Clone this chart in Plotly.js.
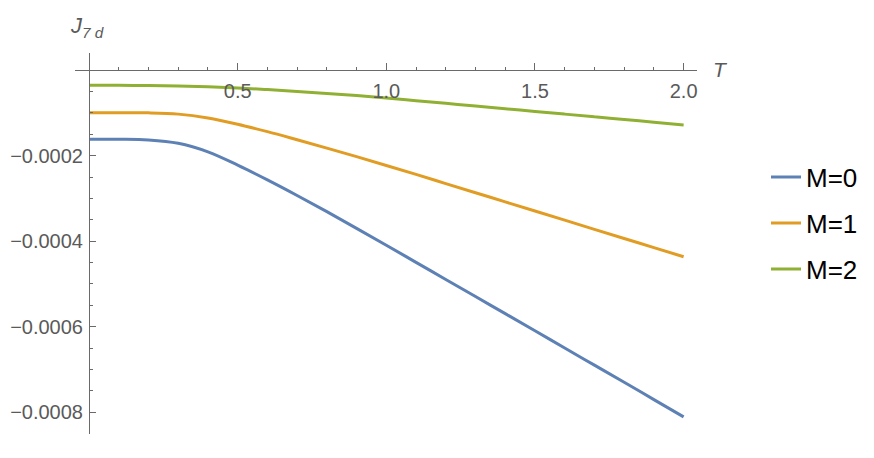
<!DOCTYPE html>
<html>
<head>
<meta charset="utf-8">
<script src="https://cdn.plot.ly/plotly-3.0.1.min.js"></script>
<style>html,body{margin:0;padding:0;background:#fff;}#chart{width:874px;height:458px;}</style>
</head>
<body>
<div id="chart"></div>
<script>
// Temperature values
const T = [0, 0.1, 0.2, 0.3, 0.4, 0.5, 0.6, 0.7, 0.8, 0.9, 1.0, 1.1, 1.2, 1.3, 1.4, 1.5, 1.6, 1.7, 1.8, 1.9, 2.0];
// J_{7d} for M = 0, 1, 2 (units of 1e-6)
const J_M0 = [-161.7, -161.7, -163.2, -171, -191, -222, -256.5, -293, -331, -370, -409.5, -449.5, -489.5, -529.5, -569.5, -609.5, -650, -690, -730, -770.5, -811];
const J_M1 = [-99.4, -99.4, -99.8, -102.8, -111.8, -126.3, -143.8, -162.8, -182.3, -202.3, -222.8, -243.8, -265.2, -286.6, -308, -329.4, -350.8, -372.2, -393.6, -415, -436.4];
const J_M2 = [-35.5, -35.5, -35.8, -36.8, -38.7, -41.6, -45.4, -49.6, -54.4, -59.5, -65.0, -71.3, -77.6, -84.0, -90.3, -96.5, -102.8, -109.1, -115.4, -121.7, -128.0];
const scale = 1e-6;
const seriesNames = ["M=0", "M=1", "M=2"];
const xTickVals = [0.5, 1.0, 1.5, 2.0];
const xTickText = ["0.5", "1.0", "1.5", "2.0"];
const yTickVals = [-0.0002, -0.0004, -0.0006, -0.0008];
const yTickText = ["\u22120.0002", "\u22120.0004", "\u22120.0006", "\u22120.0008"];

const colors = ["#5E81B5", "#E19C24", "#8FB032"];
const ys = [J_M0, J_M1, J_M2];
const legendIds = ["legend", "legend2", "legend3"];
const legendY = [177, 223, 269];

const traces = ys.map((y, i) => ({
  x: T, y: y.map(v => v * scale), type: "scatter", mode: "lines", name: seriesNames[i],
  line: {color: colors[i], width: 3, shape: "spline", smoothing: 1},
  legend: legendIds[i], hoverinfo: "none"
}));

const axisColor = "#6a6a6a";
const fam = "Liberation Sans, Arial, sans-serif";
const tickFont = {family: fam, size: 20, color: "#5a5a5a"};

const layout = {
  width: 874, height: 458,
  margin: {l: 75, r: 177, t: 53, b: 24},
  paper_bgcolor: "#fff", plot_bgcolor: "#fff",
  showlegend: true,
  xaxis: {
    range: [-0.0471, 2.045], showgrid: false, zeroline: false,
    showline: true, linecolor: axisColor, linewidth: 1,
    anchor: "free", position: 0.9549, side: "bottom",
    tickmode: "array", tickvals: xTickVals, ticktext: xTickText,
    ticks: "inside", ticklen: 7, tickwidth: 1, tickcolor: axisColor,
    ticklabelstandoff: 3,
    minor: {tickmode: "linear", tick0: 0, dtick: 0.1, ticks: "inside", ticklen: 3.5, tickwidth: 1, tickcolor: axisColor},
    tickfont: tickFont
  },
  yaxis: {
    range: [-0.000851, 0.0000402], showgrid: false, zeroline: false,
    showline: true, linecolor: axisColor, linewidth: 1,
    anchor: "free", position: 0.0225, side: "left",
    tickmode: "array", tickvals: yTickVals, ticktext: yTickText,
    ticks: "inside", ticklen: 6, tickwidth: 1, tickcolor: axisColor,
    ticklabelstandoff: 2,
    minor: {tickmode: "linear", tick0: 0, dtick: 0.00005, ticks: "inside", ticklen: 3.5, tickwidth: 1, tickcolor: axisColor},
    tickfont: tickFont
  },
  annotations: [
    {text: "<i>J</i><sub><i>7 d</i></sub>", xref: "paper", yref: "paper",
     x: (68 - 75) / 622, y: (434 - 27) / 381, xanchor: "left", yanchor: "middle",
     showarrow: false, font: {family: fam, size: 22, color: "#5a5a5a"}},
    {text: "<i>T</i>", xref: "paper", yref: "paper",
     x: (711 - 75) / 622, y: (434 - 69) / 381, xanchor: "left", yanchor: "middle",
     showarrow: false, font: {family: fam, size: 21, color: "#5a5a5a"}}
  ]
};

legendIds.forEach((id, i) => {
  layout[id] = {
    xref: "container", yref: "container",
    x: 766 / 874, y: 1 - legendY[i] / 458, xanchor: "left", yanchor: "middle",
    bgcolor: "rgba(0,0,0,0)", borderwidth: 0,
    font: {family: fam, size: 26, color: "#000"}
  };
});

Plotly.newPlot("chart", traces, layout, {staticPlot: true, displayModeBar: false});
</script>
</body>
</html>
